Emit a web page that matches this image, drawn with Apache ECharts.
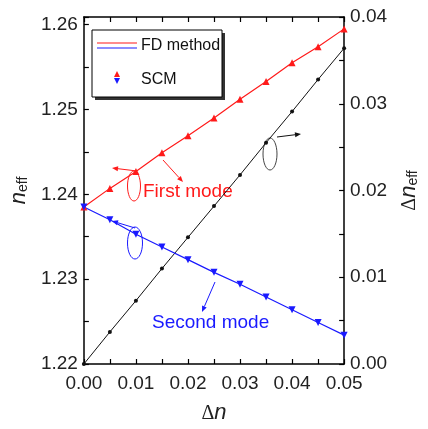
<!DOCTYPE html>
<html>
<head>
<meta charset="utf-8">
<script src="https://cdn.jsdelivr.net/npm/echarts@6/dist/echarts.min.js"></script>
<style>
  html, body { margin: 0; background: #fff; }
  #chart { width: 428px; height: 429px; }
</style>
</head>
<body>
<div id="chart"></div>
<script>
// ---- data ----
const deltaN = [0, 0.005, 0.01, 0.015, 0.02, 0.025, 0.03, 0.035, 0.04, 0.045, 0.05]
const firstMode = [1.2385, 1.2407, 1.2427, 1.2449, 1.2469, 1.2490, 1.2512, 1.2533, 1.2555, 1.2574, 1.2595]
const secondMode = [1.2385, 1.2370, 1.2353, 1.2338, 1.2323, 1.2308, 1.2294, 1.2279, 1.2264, 1.2249, 1.2234]
const deltaNeff = [0, 0.0037, 0.0073, 0.0110, 0.0146, 0.0182, 0.0218, 0.0255, 0.0291, 0.0328, 0.0364]

const xTicks = [0, 0.01, 0.02, 0.03, 0.04, 0.05]
const leftTicks = [1.22, 1.23, 1.24, 1.25, 1.26]
const rightTicks = [0, 0.01, 0.02, 0.03, 0.04]

const FONT = '"Liberation Sans", Arial, sans-serif'
const RED = '#ff1a1a'
const BLUE = '#1a1aff'
const BLACK = '#111'

const pick = (list) => (v) => {
  const hit = list.find((t) => Math.abs(t - v) < 1e-6)
  return hit === undefined ? '' : hit.toFixed(2)
}
const pairs = (ys) => deltaN.map((x, i) => [x, ys[i]])

const tickStyle = { color: '#000', width: 1.2 }
const frameAxis = (extra) => Object.assign({
  type: 'value',
  splitLine: { show: false },
  axisLine: { show: true, onZero: false, lineStyle: { color: '#000', width: 1.5 } },
  axisTick: { show: true, inside: true, length: 5, lineStyle: tickStyle },
  minorTick: { show: true, splitNumber: 2, length: 5, lineStyle: tickStyle },
  axisLabel: { fontSize: 19, color: '#222', fontFamily: FONT }
}, extra)

const nameRich = {
  d: { fontSize: 20, fontFamily: '"Liberation Serif", serif', color: '#222', verticalAlign: 'bottom', lineHeight: 26 },
  n: { fontSize: 22, fontStyle: 'italic', fontFamily: FONT, color: '#222', verticalAlign: 'bottom', lineHeight: 26 },
  s: { fontSize: 14, fontFamily: FONT, color: '#222', verticalAlign: 'bottom', lineHeight: 14 }
}

// annotation helpers (pixel decorations, not data)
const arrow = (x1, y1, x2, y2, color) => {
  const a = Math.atan2(y2 - y1, x2 - x1)
  const L = 6, W = 2.5
  const bx = x2 - L * Math.cos(a), by = y2 - L * Math.sin(a)
  return {
    type: 'group',
    children: [
      { type: 'line', shape: { x1, y1, x2: bx, y2: by }, style: { stroke: color, lineWidth: 1 } },
      {
        type: 'polygon',
        shape: { points: [[x2, y2], [bx - W * Math.sin(a), by + W * Math.cos(a)], [bx + W * Math.sin(a), by - W * Math.cos(a)]] },
        style: { fill: color }
      }
    ]
  }
}
const ellipse = (cx, cy, rx, ry, color) => ({
  type: 'ellipse', shape: { cx, cy, rx, ry }, style: { fill: 'none', stroke: color, lineWidth: 1 }
})

const option = {
  animation: false,
  backgroundColor: '#fff',
  grid: { left: 78, right: 73, top: 17, bottom: 53 },
  xAxis: [
    frameAxis({
      min: 0, max: 0.05, interval: 0.01, position: 'bottom',
      axisLabel: { fontSize: 19, color: '#222', fontFamily: FONT, margin: 10, formatter: pick(xTicks) },
      name: '{d|Δ}{n|n}', nameLocation: 'middle', nameGap: 34,
      nameTextStyle: { rich: nameRich }
    }),
    frameAxis({
      min: 0, max: 0.05, interval: 0.01, position: 'top',
      axisLabel: { show: false }
    })
  ],
  yAxis: [
    frameAxis({
      // ticks every 0.005 (labels only on 0.01) so no stray minor tick above 1.26
      min: 1.22, max: 1.2609, interval: 0.005, position: 'left',
      minorTick: { show: false },
      axisLabel: { fontSize: 19, color: '#222', fontFamily: FONT, margin: 6, formatter: pick(leftTicks) },
      name: '{n|n}{s|eff}', nameLocation: 'middle', nameRotate: 90, nameGap: 46,
      nameTextStyle: { rich: nameRich }
    }),
    frameAxis({
      min: 0, max: 0.04, interval: 0.01, position: 'right',
      axisLabel: { fontSize: 19, color: '#222', fontFamily: FONT, margin: 6, formatter: pick(rightTicks) },
      name: '{d|Δ}{n|n}{s|eff}', nameLocation: 'middle', nameRotate: 90, nameGap: 48,
      nameTextStyle: { rich: nameRich }
    })
  ],
  series: [
    {
      name: 'Δn_eff', type: 'line', xAxisIndex: 0, yAxisIndex: 1,
      data: pairs(deltaNeff),
      symbol: 'circle', symbolSize: 4,
      lineStyle: { color: BLACK, width: 1 }, itemStyle: { color: BLACK }
    },
    {
      name: 'First mode', type: 'line', xAxisIndex: 0, yAxisIndex: 0,
      data: pairs(firstMode),
      symbol: 'triangle', symbolSize: 7,
      lineStyle: { color: RED, width: 1.2 }, itemStyle: { color: RED }
    },
    {
      name: 'Second mode', type: 'line', xAxisIndex: 0, yAxisIndex: 0,
      data: pairs(secondMode),
      symbol: 'triangle', symbolRotate: 180, symbolSize: 7,
      lineStyle: { color: BLUE, width: 1.2 }, itemStyle: { color: BLUE }
    }
  ],
  graphic: [
    // legend box
    { type: 'rect', shape: { x: 95, y: 33, width: 130, height: 67 }, style: { fill: '#333' } },
    { type: 'rect', shape: { x: 92, y: 30, width: 130, height: 67 }, style: { fill: '#fff', stroke: '#000', lineWidth: 1 } },
    { type: 'line', shape: { x1: 97, y1: 43, x2: 137, y2: 43 }, style: { stroke: RED, lineWidth: 1.2 } },
    { type: 'line', shape: { x1: 97, y1: 48, x2: 137, y2: 48 }, style: { stroke: BLUE, lineWidth: 1.2 } },
    { type: 'text', x: 141, y: 46, style: { text: 'FD method', fontSize: 16, fontFamily: FONT, fill: '#111', verticalAlign: 'middle' } },
    { type: 'polygon', shape: { points: [[114, 77], [120, 77], [117, 71]] }, style: { fill: RED } },
    { type: 'polygon', shape: { points: [[114, 78], [120, 78], [117, 84]] }, style: { fill: BLUE } },
    { type: 'text', x: 141, y: 80, style: { text: 'SCM', fontSize: 16, fontFamily: FONT, fill: '#111', verticalAlign: 'middle' } },
    // annotations
    ellipse(134, 186, 6.5, 15, RED),
    arrow(137, 171, 112, 168, RED),
    arrow(163, 160, 183, 182, RED),
    { type: 'text', x: 143, y: 192, style: { text: 'First mode', fontSize: 19, fontFamily: FONT, fill: RED, verticalAlign: 'middle' } },
    ellipse(135, 243, 7.5, 16, BLUE),
    arrow(135, 228, 112, 221, BLUE),
    arrow(215, 282, 202, 312, BLUE),
    { type: 'text', x: 152, y: 323, style: { text: 'Second mode', fontSize: 19, fontFamily: FONT, fill: BLUE, verticalAlign: 'middle' } },
    ellipse(270, 154, 7, 16, '#444'),
    arrow(277, 137, 301, 134, BLACK)
  ]
}

const myChart = echarts.init(document.getElementById('chart'))
myChart.setOption(option)
</script>
</body>
</html>
